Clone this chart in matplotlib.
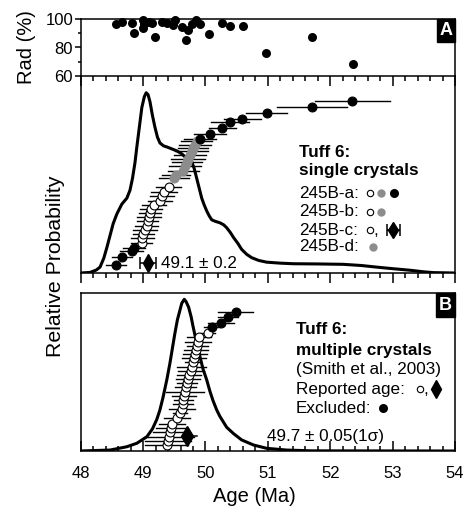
import matplotlib
matplotlib.use("Agg")
import numpy as np
import matplotlib.pyplot as plt
from matplotlib.patches import Rectangle
from matplotlib.ticker import MultipleLocator

plt.rcParams['font.family'] = ['Liberation Sans', 'DejaVu Sans']

# ---------------- data ----------------
# Panel A: radiogenic 40Ar (%)
age_rad = [48.57, 48.67, 48.83, 48.85, 49.00, 49.00, 49.02, 49.09, 49.14, 49.19,
           49.30, 49.38, 49.48, 49.51, 49.63, 49.69, 49.72, 49.78, 49.85, 49.91,
           50.06, 50.26, 50.39, 50.60, 50.97, 51.70, 52.36]
rad_pct = [96.4, 97.8, 96.9, 90.2, 99.3, 93.6, 96.4, 97.8, 97.3, 87.4,
           98.0, 97.3, 95.9, 99.0, 94.3, 85.0, 92.6, 96.4, 99.0, 96.4,
           89.3, 97.3, 95.0, 95.2, 76.2, 87.4, 68.3]

# Middle panel: single crystals probability curve
pdf1_age = [48.00, 48.15, 48.25, 48.31, 48.37, 48.42, 48.47, 48.52, 48.58, 48.66,
            48.74, 48.79, 48.83, 48.87, 48.90, 48.94, 48.98, 49.02, 49.05, 49.08,
            49.11, 49.15, 49.19, 49.23, 49.27, 49.33, 49.38, 49.46, 49.54, 49.62,
            49.67, 49.73, 49.78, 49.82, 49.86, 49.90, 49.94, 49.98, 50.02, 50.06,
            50.10, 50.16, 50.23, 50.29, 50.34, 50.40, 50.45, 50.52, 50.58, 50.66,
            50.74, 50.85, 50.98, 51.20, 51.41, 51.80, 52.21, 52.50, 52.74, 53.00,
            53.28, 53.50, 53.65, 54.00]
pdf1_val = [0.000, 0.003, 0.015, 0.030, 0.075, 0.130, 0.190, 0.250, 0.300, 0.350,
            0.380, 0.420, 0.480, 0.560, 0.640, 0.740, 0.840, 0.895, 0.915, 0.905,
            0.870, 0.800, 0.740, 0.690, 0.660, 0.645, 0.640, 0.630, 0.620, 0.605,
            0.590, 0.580, 0.565, 0.530, 0.480, 0.430, 0.380, 0.345, 0.315, 0.290,
            0.270, 0.262, 0.255, 0.245, 0.230, 0.205, 0.180, 0.150, 0.120, 0.095,
            0.078, 0.064, 0.055, 0.050, 0.047, 0.046, 0.044, 0.038, 0.030, 0.022,
            0.014, 0.006, 0.002, 0.000]

# Middle panel: single-crystal ages (cumulative order), errors, groups
sc_age = [48.566, 48.657, 48.817, 48.854,
          48.978, 48.987, 49.003, 49.030, 49.058, 49.074, 49.090, 49.111, 49.127,
          49.179, 49.271, 49.298, 49.335, 49.415,
          49.495, 49.527, 49.644, 49.671, 49.699, 49.724, 49.752, 49.779, 49.804,
          49.832, 49.859,
          49.912, 50.072, 50.269, 50.393, 50.590, 50.981, 51.712, 52.353]
sc_pos = [0.041, 0.080, 0.112, 0.125,
          0.154, 0.176, 0.198, 0.218, 0.240, 0.262, 0.283, 0.303, 0.323,
          0.345, 0.367, 0.391, 0.413, 0.438,
          0.481, 0.495, 0.520, 0.541, 0.561, 0.581, 0.599, 0.617, 0.635,
          0.652, 0.668,
          0.680, 0.704, 0.735, 0.765, 0.782, 0.814, 0.844, 0.875]
sc_err = [0.16, 0.16, 0.18, 0.18,
          0.17, 0.18, 0.17, 0.19, 0.18, 0.17, 0.19, 0.18, 0.17,
          0.19, 0.20, 0.19, 0.21, 0.20,
          0.24, 0.22, 0.25, 0.26, 0.24, 0.27, 0.25, 0.26, 0.24,
          0.26, 0.25,
          0.25, 0.25, 0.22, 0.30, 0.30, 0.33, 0.56, 0.60]
sc_grp = ['k', 'k', 'k', 'k',
          'o', 'o', 'o', 'o', 'o', 'o', 'o', 'o', 'o',
          'o', 'o', 'o', 'o', 'o',
          'g', 'g', 'g', 'g', 'g', 'g', 'g', 'g', 'g',
          'g', 'g',
          'k', 'k', 'k', 'k', 'k', 'k', 'k', 'k']
sc_mean, sc_mean_err, sc_mean_pos = 49.08, 0.126, 0.049

# Panel B: multiple crystals probability curve
pdf2_age = [48.00, 48.47, 48.74, 48.90, 49.06, 49.15, 49.22, 49.27, 49.32, 49.38,
            49.43, 49.47, 49.51, 49.55, 49.59, 49.62, 49.66, 49.69, 49.73, 49.77,
            49.80, 49.85, 49.91, 49.96, 50.02, 50.07, 50.12, 50.18, 50.23, 50.34,
            50.45, 50.58, 50.77, 50.98, 51.30, 51.70, 54.00]
pdf2_val = [0.000, 0.006, 0.027, 0.049, 0.090, 0.140, 0.200, 0.260, 0.340, 0.450,
            0.555, 0.650, 0.745, 0.830, 0.890, 0.935, 0.960, 0.945, 0.910, 0.850,
            0.790, 0.700, 0.600, 0.520, 0.450, 0.380, 0.320, 0.260, 0.220, 0.150,
            0.110, 0.070, 0.038, 0.017, 0.006, 0.001, 0.000]

mc_age = [49.378, 49.404, 49.415, 49.431, 49.447, 49.468, 49.538, 49.591, 49.619,
          49.635, 49.644, 49.660, 49.671, 49.683, 49.699, 49.724, 49.740, 49.763,
          49.779, 49.795, 49.816, 49.832, 49.848, 49.869, 49.885, 49.901, 50.045,
          50.109, 50.248, 50.365, 50.484]
mc_pos = [0.038, 0.065, 0.091, 0.118, 0.144, 0.171, 0.207, 0.239, 0.266,
          0.296, 0.323, 0.350, 0.375, 0.403, 0.428, 0.456, 0.481, 0.508,
          0.534, 0.561, 0.587, 0.614, 0.639, 0.665, 0.692, 0.720, 0.749,
          0.783, 0.812, 0.846, 0.882]
mc_err = [0.35, 0.37, 0.40, 0.28, 0.24, 0.21, 0.21, 0.11, 0.21,
          0.16, 0.15, 0.19, 0.31, 0.17, 0.16, 0.19, 0.19, 0.21,
          0.23, 0.13, 0.20, 0.20, 0.20, 0.17, 0.21, 0.19, 0.11,
          0.13, 0.21, 0.16, 0.28]
mc_grp = ['o'] * 27 + ['k'] * 4
mc_mean, mc_mean_err, mc_mean_pos = 49.70, 0.17, 0.095

# ---------------- figure ----------------
W, H = 477, 514
fig = plt.figure(figsize=(W / 100, H / 100), dpi=100)

def rect(x0, y0, x1, y1):
    return [x0 / W, 1 - y1 / H, (x1 - x0) / W, (y1 - y0) / H]

axM = fig.add_axes(rect(80.7, 76, 455, 273))
axB = fig.add_axes(rect(80.7, 293, 455, 451))
axA = fig.add_axes(rect(80.7, 19, 455, 76))

LW = 1.1
for ax in (axA, axM, axB):
    ax.set_xlim(48, 54)
    ax.patch.set_visible(False)
    for s in ax.spines.values():
        s.set_linewidth(LW)
    ax.xaxis.set_major_locator(MultipleLocator(1))
    ax.xaxis.set_minor_locator(MultipleLocator(0.2))
    ax.tick_params(which='major', width=LW, length=7.5)
    ax.tick_params(which='minor', width=LW, length=3.8)

axA.set_ylim(60, 100)
axA.set_yticks([60, 80, 100])
axA.yaxis.set_minor_locator(MultipleLocator(10))
axA.tick_params(axis='y', which='major', direction='out', length=4, labelsize=12, pad=1.5)
axA.tick_params(axis='y', which='minor', direction='out', length=2.5)
axA.tick_params(axis='x', which='both', direction='out', bottom=True, labelbottom=False)
axM.set_ylim(0, 1)
axM.spines['top'].set_visible(False)
axM.set_yticks([])
axM.tick_params(axis='x', which='both', direction='out', bottom=True, labelbottom=False)
axB.set_ylim(0, 1)
axB.set_yticks([])
axB.tick_params(axis='x', which='both', direction='in', bottom=True, labelsize=12, pad=11)

# ---- Panel A ----
axA.scatter(age_rad, rad_pct, s=42, c='black', zorder=3, clip_on=False, linewidths=0)
axA.add_patch(Rectangle((1 - 18 / 374.3, 1 - 23 / 57), 18 / 374.3, 23 / 57,
                        transform=axA.transAxes, color='black', clip_on=False, zorder=5))
axA.text(1 - 9 / 374.3, 1 - 11.5 / 57, 'A', transform=axA.transAxes, color='white',
         fontsize=13, fontweight='bold', ha='center', va='center', zorder=6)

# ---- Middle panel ----
axM.plot(pdf1_age, pdf1_val, color='black', lw=2.2, zorder=2, solid_joinstyle='round')
face = {'k': 'black', 'o': 'white', 'g': '#8c8c8c'}
edge = {'k': 'black', 'o': 'black', 'g': '#8c8c8c'}
for a, p, e in zip(sc_age, sc_pos, sc_err):
    axM.plot([a - e, a + e], [p, p], color='black', lw=1.0, zorder=3)
for a, p, g in zip(sc_age, sc_pos, sc_grp):
    axM.plot(a, p, 'o', ms=6.4, mfc=face[g], mec=edge[g], mew=0.8, zorder=4)

axM.errorbar(sc_mean, sc_mean_pos, xerr=sc_mean_err, fmt='d', color='black', ms=9,
             capsize=4.6, capthick=1.1, elinewidth=1.1, zorder=4)
axM.text(49.28, sc_mean_pos, '49.1 \u00b1 0.2', fontsize=12.3, va='center', ha='left')

xl = 51.50
axM.text(xl, 0.614, 'Tuff 6:', fontsize=12.3, fontweight='bold', va='center')
axM.text(xl, 0.518, 'single crystals', fontsize=12.3, fontweight='bold', va='center')
axM.text(xl, 0.406, '245B-a:', fontsize=12.3, va='center')
axM.text(xl, 0.310, '245B-b:', fontsize=12.3, va='center')
axM.text(xl, 0.218, '245B-c:', fontsize=12.3, va='center')
axM.text(xl, 0.132, '245B-d:', fontsize=12.3, va='center')
axM.plot([52.64], [0.406], 'o', ms=4.6, mfc='white', mec='black', mew=0.8)
axM.plot([52.82], [0.406], 'o', ms=6, mfc='#8c8c8c', mec='#8c8c8c', mew=0)
axM.plot([53.03], [0.406], 'o', ms=6.5, mfc='black', mec='black', mew=0)
axM.plot([52.64], [0.310], 'o', ms=4.6, mfc='white', mec='black', mew=0.8)
axM.plot([52.82], [0.310], 'o', ms=6, mfc='#8c8c8c', mec='#8c8c8c', mew=0)
axM.plot([52.63], [0.218], 'o', ms=4.6, mfc='white', mec='black', mew=0.8)
axM.text(52.69, 0.218, ',', fontsize=12.3, va='center')
axM.errorbar([53.01], [0.218], xerr=[0.105], fmt='d', color='black', ms=8,
             capsize=4.2, capthick=1.1, elinewidth=1.1)
axM.plot([52.69], [0.132], 'o', ms=6, mfc='#8c8c8c', mec='#8c8c8c', mew=0)

# ---- Panel B ----
axB.plot(pdf2_age, pdf2_val, color='black', lw=2.2, zorder=2, solid_joinstyle='round')
for a, p, e in zip(mc_age, mc_pos, mc_err):
    axB.plot([a - e, a + e], [p, p], color='black', lw=1.0, zorder=3)
for a, p, g in zip(mc_age, mc_pos, mc_grp):
    axB.plot(a, p, 'o', ms=6.4, mfc=face[g], mec='black', mew=0.8, zorder=4)
axB.plot([mc_mean + 0.10, mc_mean + mc_mean_err], [mc_mean_pos, mc_mean_pos],
         color='black', lw=1.1, zorder=3)
axB.plot([mc_mean], [mc_mean_pos], 'd', color='black', ms=10, zorder=5)
axB.text(50.99, 0.09, '49.7 \u00b1 0.05(1\u03c3)', fontsize=12.3, va='center', ha='left')

xb = 51.45
axB.text(xb, 0.766, 'Tuff 6:', fontsize=12.3, fontweight='bold', va='center')
axB.text(xb, 0.639, 'multiple crystals', fontsize=12.3, fontweight='bold', va='center')
axB.text(xb, 0.513, '(Smith et al., 2003)', fontsize=12.3, va='center')
axB.text(xb, 0.392, 'Reported age:', fontsize=12.3, va='center')
axB.text(xb, 0.272, 'Excluded:', fontsize=12.3, va='center')
axB.plot([53.44], [0.392], 'o', ms=4.6, mfc='white', mec='black', mew=0.8)
axB.text(53.50, 0.392, ',', fontsize=12.3, va='center')
axB.plot([53.70], [0.392], 'd', color='black', ms=9)
axB.plot([52.84], [0.272], 'o', ms=6.5, mfc='black', mec='black', mew=0)
axB.add_patch(Rectangle((1 - 19 / 374.3, 1 - 24 / 158), 19 / 374.3, 24 / 158,
                        transform=axB.transAxes, color='black', clip_on=False, zorder=5))
axB.text(1 - 9.5 / 374.3, 1 - 12 / 158, 'B', transform=axB.transAxes, color='white',
         fontsize=13, fontweight='bold', ha='center', va='center', zorder=6)

for ax in (axA, axM, axB):
    ax.set_xlim(48, 54)
axA.set_ylim(60, 100)
axM.set_ylim(0, 1)
axB.set_ylim(0, 1)

# ---- axis labels ----
fig.text(27 / W, 1 - 47 / H, 'Rad (%)', rotation=90, fontsize=14.5, ha='center', va='center')
fig.text(56 / W, 1 - 266 / H, 'Relative Probability', rotation=90, fontsize=15.3,
         ha='center', va='center')
fig.text(254 / W, 1 - 496 / H, 'Age (Ma)', fontsize=14.5, ha='center', va='center')

fig.savefig('out.png', dpi=100)

# safety: if the x tick marks did not show up, draw them explicitly
img = plt.imread('out.png')
if img[278, 330, :3].mean() > 0.6 or img[446, 330, :3].mean() > 0.6:
    majors = np.arange(48, 54.001, 1.0)
    minors = np.arange(48, 54.001, 0.2)
    for ax, hpx, inward in ((axA, 57, False), (axM, 197, False), (axB, 158, True)):
        trans = ax.get_xaxis_transform()
        for locs, L in ((majors, 10.4), (minors, 5.3)):
            for x in locs:
                y1 = L / hpx if inward else -L / hpx
                ax.plot([x, x], [0, y1], transform=trans, color='black', lw=LW,
                        clip_on=False, solid_capstyle='butt', zorder=6)
    fig.savefig('out.png', dpi=100)
